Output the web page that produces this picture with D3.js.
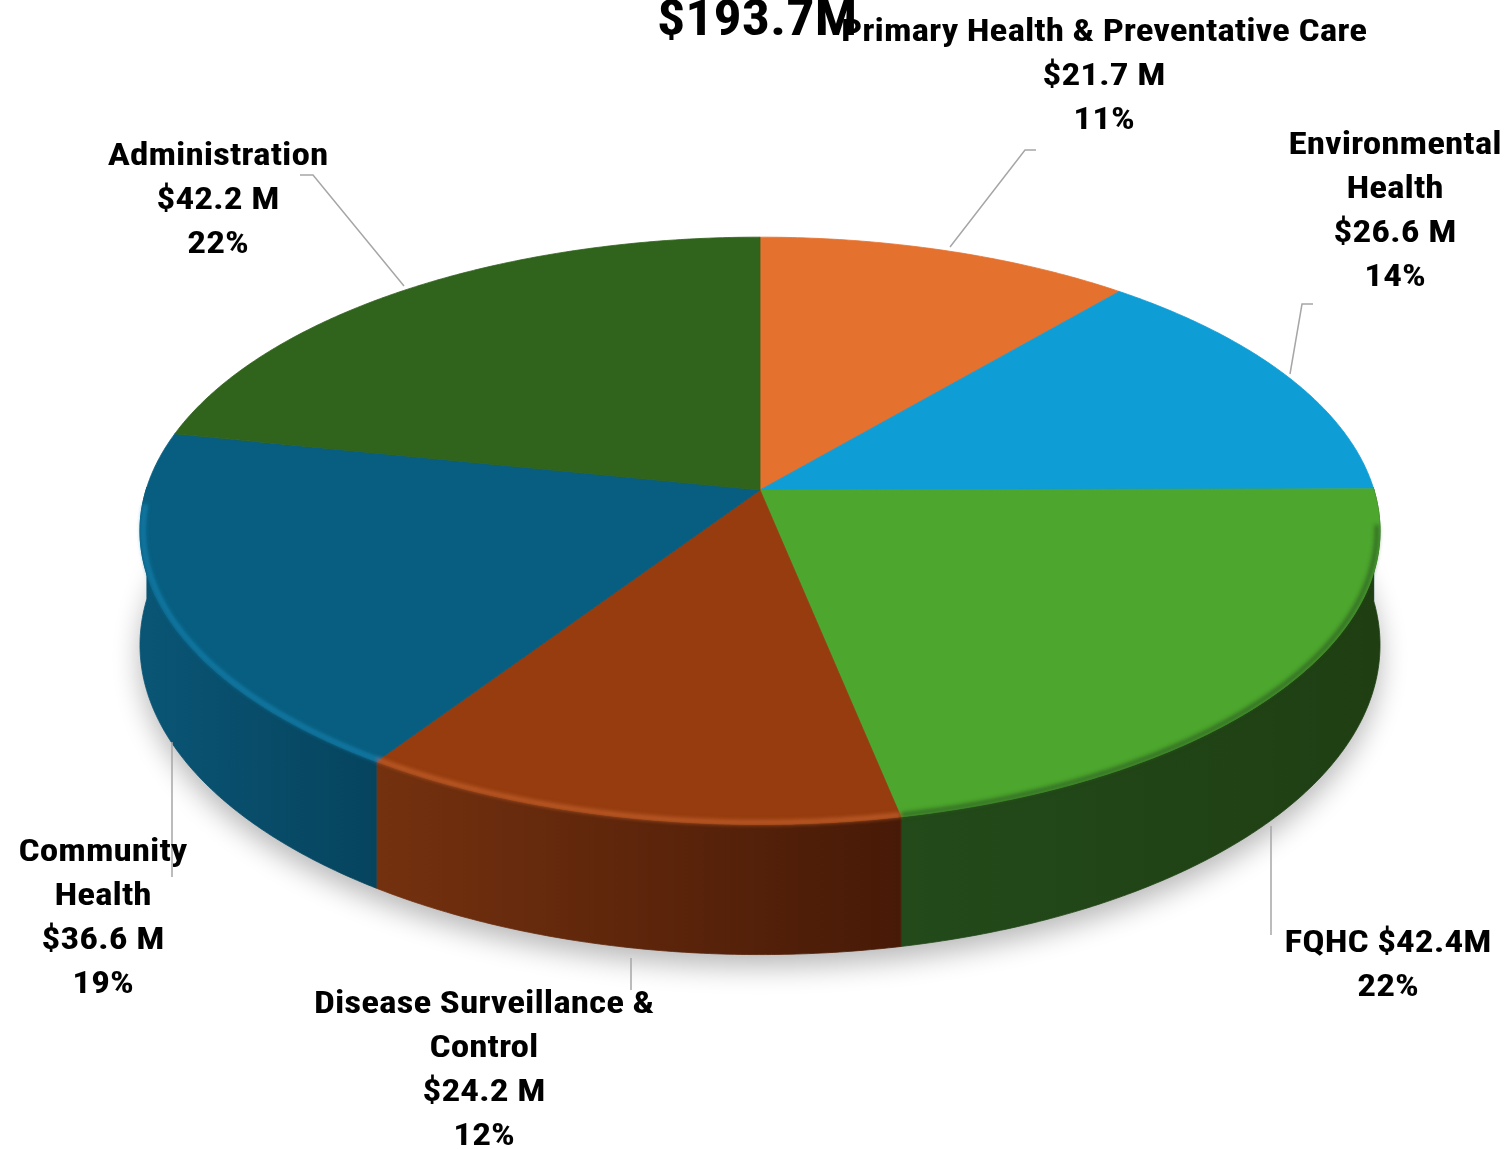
<!DOCTYPE html>
<html>
<head>
<meta charset="utf-8">
<script src="https://cdn.jsdelivr.net/npm/d3@7"></script>
<style>
  html, body { margin: 0; padding: 0; background: #fff; }
  svg { display: block; }
  text { font-family: "Liberation Sans Narrow", "Arial Narrow", "Roboto Condensed", "Roboto", sans-serif; font-weight: bold; fill: #000; }
</style>
</head>
<body>
<svg id="chart" width="1509" height="1149"></svg>
<script>
// ---------- data ----------
const title = "$193.7M";
const categories = ["Primary Health & Preventative Care", "Environmental Health", "FQHC", "Disease Surveillance & Control", "Community Health", "Administration"];
const values = [21.7, 26.6, 42.4, 24.2, 36.6, 42.2];
const valueLabels = ["$21.7 M", "$26.6 M", "$42.4M", "$24.2 M", "$36.6 M", "$42.2 M"];
const percentLabels = ["11%", "14%", "22%", "12%", "19%", "22%"];
const labelLines = [
  ["Primary Health & Preventative Care", "$21.7 M", "11%"],
  ["Environmental", "Health", "$26.6 M", "14%"],
  ["FQHC $42.4M", "22%"],
  ["Disease Surveillance &", "Control", "$24.2 M", "12%"],
  ["Community", "Health", "$36.6 M", "19%"],
  ["Administration", "$42.2 M", "22%"]
];

// ---------- styles / layout ----------
const topColors  = ["#E5712F", "#0F9DD5", "#4DA72E", "#963C0F", "#085E80", "#30631C"];
const sideLeft   = ["#B0541F", "#0B74A0", "#234A1A", "#74310F", "#0A5575", "#24481A"];
const sideRight  = ["#A04A1A", "#096A92", "#1F3F13", "#471A07", "#06445E", "#1F3F13"];
const rimColors  = ["#F08A50", "#3DB5E5", "#2C5A22", "#C9652F", "#1A86B5", "#3D7A25"];
const labelPos = [
  {x: 1104, y: 30}, {x: 1395, y: 143}, {x: 1388, y: 941},
  {x: 484, y: 1003}, {x: 103, y: 850}, {x: 218, y: 154}
];
const leaders = [
  [[950, 247], [1025, 150], [1036, 150]],
  [[1290, 374], [1302, 304], [1313, 304]],
  [[1271, 826], [1271, 935]],
  [[631, 958], [631, 990]],
  [[172, 742], [172, 877]],
  [[404, 286], [313, 175], [300, 175]]
];

const cx = 760, cy = 490;
const R = 614, K = 288, A = 0.139, DEPTH = 112;

const svg = d3.select("#chart");
const defs = svg.append("defs");

function proj(theta, r, d) {
  const x = r * Math.sin(theta), y = -r * Math.cos(theta);
  const w = 1 - A * y;
  return [cx + R * x / w, cy + (K * y + DEPTH * d) / w];
}
const line = d3.line();
function arcPts(a0, a1, r, d) {
  const n = Math.max(2, Math.ceil((a1 - a0) / (Math.PI / 360)));
  const pts = [];
  for (let i = 0; i <= n; i++) pts.push(proj(a0 + (a1 - a0) * i / n, r, d));
  return pts;
}

const pie = d3.pie().sort(null).startAngle(0).endAngle(2 * Math.PI);
const arcs = pie(values);

const fShadow = defs.append("filter").attr("id", "shadow").attr("x", "-20%").attr("y", "-20%").attr("width", "140%").attr("height", "140%");
fShadow.append("feGaussianBlur").attr("stdDeviation", 14);
const fRim = defs.append("filter").attr("id", "rimblur").attr("x", "-5%").attr("y", "-5%").attr("width", "110%").attr("height", "110%");
fRim.append("feGaussianBlur").attr("stdDeviation", 2.2);

// shadow under pie
svg.append("path")
  .attr("d", line(arcPts(0, 2 * Math.PI, 1, 1)) + "Z")
  .attr("transform", "translate(0,12)")
  .attr("fill", "#000").attr("opacity", 0.28)
  .attr("filter", "url(#shadow)");

// sides (front half)
const gSides = svg.append("g");
arcs.forEach((a, i) => {
  const s0 = Math.max(a.startAngle, Math.PI / 2 - 0.01);
  const s1 = Math.min(a.endAngle, 3 * Math.PI / 2 + 0.01);
  if (s1 <= s0) return;
  const topE = arcPts(s0, s1, 1, 0);
  const botE = arcPts(s0, s1, 1, 1).reverse();
  const xs = topE.map(p => p[0]);
  const gid = "side" + i;
  const grad = defs.append("linearGradient").attr("id", gid)
    .attr("gradientUnits", "userSpaceOnUse")
    .attr("x1", d3.min(xs)).attr("x2", d3.max(xs)).attr("y1", 0).attr("y2", 0);
  grad.append("stop").attr("offset", 0).attr("stop-color", sideLeft[i]);
  grad.append("stop").attr("offset", 1).attr("stop-color", sideRight[i]);
  gSides.append("path")
    .attr("d", line(topE.concat(botE)) + "Z")
    .attr("fill", `url(#${gid})`)
    .attr("stroke", `url(#${gid})`).attr("stroke-width", 0.8);
});

// top faces
const gTop = svg.append("g");
arcs.forEach((a, i) => {
  const pts = [[cx, cy]].concat(arcPts(a.startAngle, a.endAngle, 1, 0));
  gTop.append("path")
    .attr("d", line(pts) + "Z")
    .attr("fill", topColors[i])
    .attr("stroke", topColors[i]).attr("stroke-width", 0.8);
});

// rim highlight on front edge of top face
const gRim = svg.append("g").attr("filter", "url(#rimblur)");
arcs.forEach((a, i) => {
  const s0 = Math.max(a.startAngle, Math.PI / 2 + 0.12);
  const s1 = Math.min(a.endAngle, 3 * Math.PI / 2 - 0.05);
  if (s1 <= s0) return;
  gRim.append("path")
    .attr("d", line(arcPts(s0, s1, 0.995, 0)))
    .attr("fill", "none")
    .attr("stroke", rimColors[i]).attr("stroke-width", 4)
    .attr("opacity", 0.85);
});

// leader lines
svg.append("g").selectAll("path").data(leaders).join("path")
  .attr("d", d => line(d))
  .attr("fill", "none")
  .attr("stroke", "#A6A6A6").attr("stroke-width", 1.5);

// labels (horizontally widened narrow font)
const LABEL_SX = 1.2;
const gLab = svg.append("g");
labelLines.forEach((lines, i) => {
  const t = gLab.append("text")
    .attr("transform", `translate(${labelPos[i].x},0) scale(${LABEL_SX},1)`)
    .attr("text-anchor", "middle")
    .attr("dominant-baseline", "central")
    .attr("font-size", 31);
  lines.forEach((s, j) => {
    t.append("tspan").attr("x", 0).attr("y", labelPos[i].y + j * 44 - (i === 3 ? 1 : 0)).text(s);
  });
});

// title
svg.append("text")
  .attr("transform", "translate(757,0) scale(1.12,1)")
  .attr("x", 0).attr("y", 35)
  .attr("text-anchor", "middle")
  .attr("font-size", 50)
  .text(title);
</script>
</body>
</html>
